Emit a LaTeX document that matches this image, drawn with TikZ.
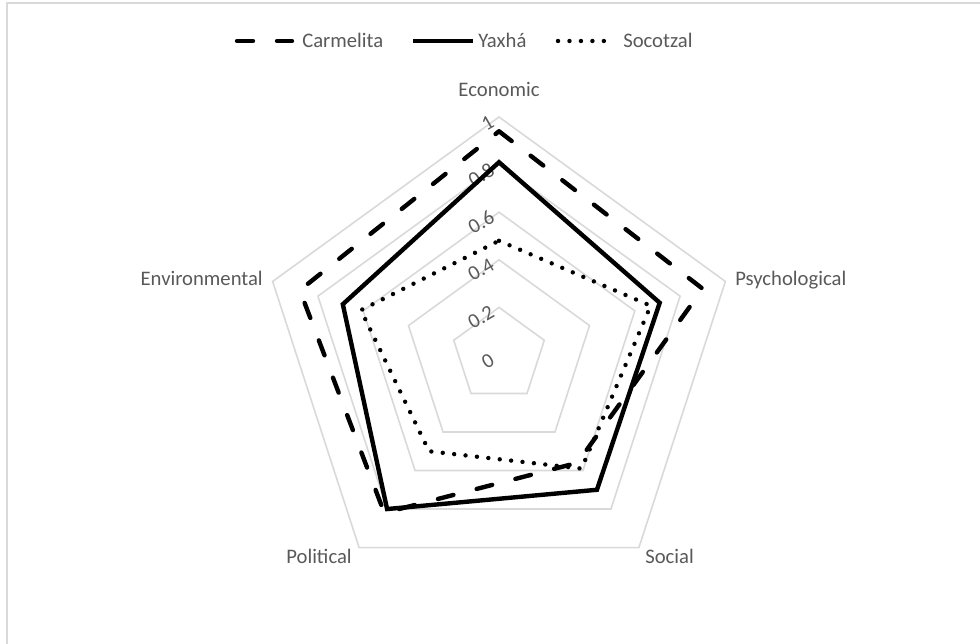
\documentclass[tikz,border=0pt]{standalone}
\usepackage{fontspec}
\setmainfont{Carlito}
\usetikzlibrary{positioning}

\definecolor{gridgray}{HTML}{D9D9D9}
\definecolor{textgray}{HTML}{595959}

\tikzset{
  gridline/.style={draw=gridgray, line width=1.2pt},
  axislabel/.style={text=textgray, font=\fontsize{15.5}{18}\selectfont, inner sep=0pt},
  ticklabel/.style={axislabel, anchor=north east, rotate=30},
  carmelita/.style={line width=3.3pt, dash pattern=on 12pt off 18pt, line cap=round, line join=round},
  yaxha/.style={line width=3.3pt, line join=miter},
  socotzal/.style={line width=3.3pt, dash pattern=on 0pt off 8.6pt, line cap=round, line join=round},
}

\begin{document}
\begin{tikzpicture}[x=0.75pt, y=0.75pt]

    % Define canvas size and chart radius (in pixels)
    \def\R{238}
    \useasboundingbox (0,0) rectangle (980,643);

    % Outer chart frame (cut by the page on the right and bottom)
    \draw[gridgray, line width=1.1pt] (7,-20) -- (7,640) -- (1000,640);

    % Legend samples and their names
    \coordinate (carmA) at (237,602);
    \coordinate (carmB) at (292,602);
    \coordinate (yaxA) at (413,602);
    \coordinate (yaxB) at (473,602);
    \coordinate (socA) at (558,602);
    \coordinate (socB) at (614,602);
    \draw[carmelita] (carmA) -- (carmB);
    \draw[yaxha] (yaxA) -- (yaxB);
    \draw[socotzal] (socA) -- (socB);
    \node[axislabel, anchor=base west] (carmtext) at (302,595) {Carmelita};
    \node[axislabel, anchor=base west] (yaxtext) at (478,595) {Yaxhá};
    \node[axislabel, anchor=base west] (soctext) at (623,595) {Socotzal};

    % Radar chart centred on the Economic axis
    \begin{scope}[shift={(499,288)}]

      % Grid pentagons
      \foreach \r in {0.2,0.4,0.6,0.8,1}
        \draw[gridline] (90:{\r*\R}) -- (18:{\r*\R}) -- (-54:{\r*\R})
          -- (-126:{\r*\R}) -- (162:{\r*\R}) -- cycle;

      % Scale values along the vertical axis
      \foreach \v [count=\i] in {0,0.2,0.4,0.6,0.8,1}
        \node[ticklabel] (tick\i) at (-10,{3+\v*\R}) {\v};

      % Axis names
      \node[axislabel, anchor=base] (econ) at (0,258) {Economic};
      \node[axislabel, anchor=base west] (psych) at (236,69) {Psychological};
      \node[axislabel, anchor=base west] (social) at (146,-208) {Social};
      \node[axislabel, anchor=base east] (polit) at (-147,-208) {Political};
      \node[axislabel, anchor=base east] (envir) at (-236,69) {Environmental};

      % Data series
      \draw[carmelita] (90:{0.94*\R}) -- (18:{0.90*\R}) -- (-54:{0.56*\R})
        -- (-126:{0.82*\R}) -- (162:{0.88*\R}) -- cycle;
      \draw[yaxha] (90:{0.81*\R}) -- (18:{0.71*\R}) -- (-54:{0.70*\R})
        -- (-126:{0.80*\R}) -- (162:{0.69*\R}) -- cycle;
      \draw[socotzal] (90:{0.48*\R}) -- (18:{0.67*\R}) -- (-54:{0.59*\R})
        -- (-126:{0.50*\R}) -- (162:{0.61*\R}) -- cycle;

    \end{scope}

\end{tikzpicture}
\end{document}
